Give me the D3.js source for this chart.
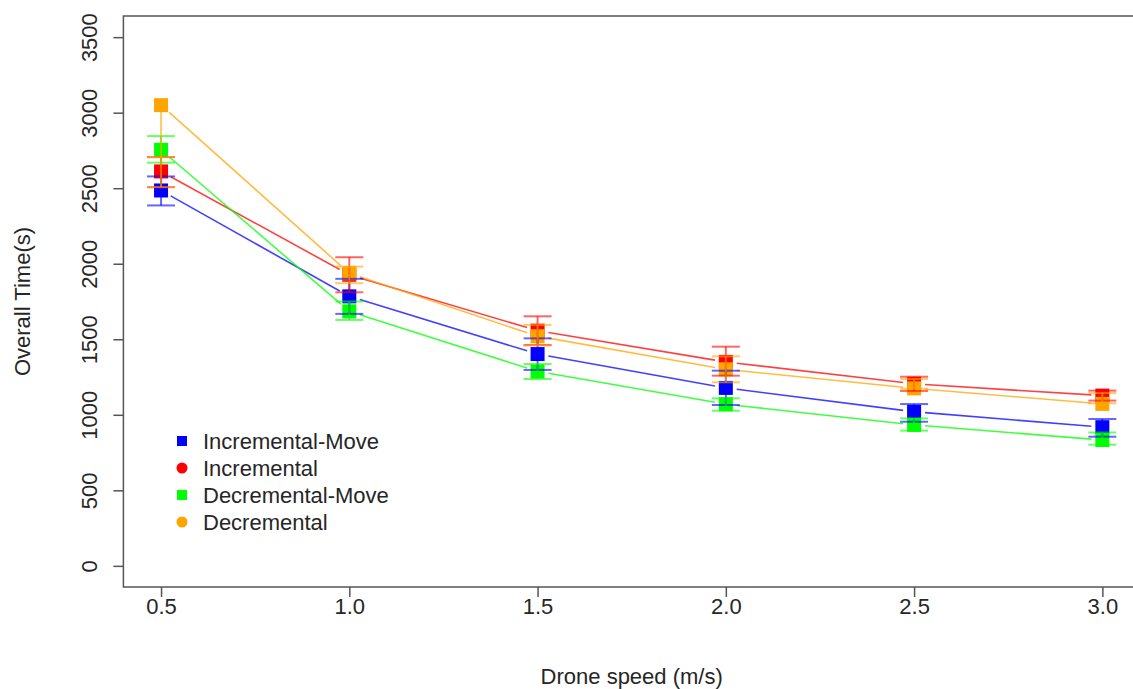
<!DOCTYPE html>
<html>
<head>
<meta charset="utf-8">
<script src="https://cdn.jsdelivr.net/npm/d3@7"></script>
<style>
  body { margin: 0; background: #fff; }
  text { font-family: 'Liberation Sans', Arial, sans-serif; fill: #262626; }
</style>
</head>
<body>
<div class="chart-holder"></div>
<script>
let width = 1133
let height = 689

let speeds = [0.5, 1.0, 1.5, 2.0, 2.5, 3.0]
let xTicks = ['0.5', '1.0', '1.5', '2.0', '2.5', '3.0']
let yTicks = [0, 500, 1000, 1500, 2000, 2500, 3000, 3500]

// mean value and the two error bar ends, per speed
let incMove = [2485, 1784, 1402, 1178, 1020, 918]
let incMoveLo = [2386, 1668, 1297, 1065, 954, 855]
let incMoveHi = [2578, 1900, 1506, 1292, 1071, 972]

let inc = [2611, 1927, 1557, 1350, 1205, 1127]
let incLo = [2507, 1811, 1462, 1259, 1158, 1094]
let incHi = [2706, 2043, 1652, 1451, 1252, 1160]

let decMove = [2754, 1685, 1287, 1070, 933, 833]
let decMoveLo = [2669, 1628, 1237, 1027, 895, 802]
let decMoveHi = [2845, 1750, 1336, 1109, 976, 883]

let dec = [3050, 1937, 1520, 1301, 1175, 1072]
let decLo = [2507, 1871, 1458, 1215, 1173, 1076]
let decHi = [2706, 1981, 1595, 1387, 1237, 1144]

let seriesNames = ['Incremental-Move', 'Incremental', 'Decremental-Move', 'Decremental']
let seriesColors = ['#0000ff', '#ff0000', '#00ff00', '#ffa500']
let legendShapes = ['square', 'circle', 'square', 'circle']

let series = [
    { values: incMove, lo: incMoveLo, hi: incMoveHi },
    { values: inc, lo: incLo, hi: incHi },
    { values: decMove, lo: decMoveLo, hi: decMoveHi },
    { values: dec, lo: decLo, hi: decHi }
]
series.forEach((s, i) => { s.name = seriesNames[i]; s.color = seriesColors[i]; s.shape = legendShapes[i] })

let plot = { left: 123.4, right: 1140, top: 16, bottom: 587 }
let fontSize = 22

// R style: 4% padding on each side of the data range
let x = d3.scaleLinear().domain([0.4, 3.1]).range([plot.left, plot.right])
let y = d3.scaleLinear().domain([-140, 3640]).range([plot.bottom, plot.top])

let svg = d3.select('.chart-holder')
    .append('svg')
        .attr('width', width)
        .attr('height', height)

// axes
let xAxis = svg.append('g')
    .attr('transform', 'translate(0,' + plot.bottom + ')')
    .call(d3.axisBottom(x).tickValues(speeds).tickFormat((d, i) => xTicks[i]).tickSize(10).tickPadding(0))
xAxis.select('.domain').remove()
xAxis.selectAll('line').attr('stroke', '#555').attr('stroke-width', 1.5)
xAxis.selectAll('text').attr('font-size', fontSize).attr('fill', '#262626').attr('dy', '0.75em')

let yAxis = svg.append('g')
    .attr('transform', 'translate(' + plot.left + ',0)')
    .call(d3.axisLeft(y).tickValues(yTicks).tickFormat(d3.format('d')).tickSize(10))
yAxis.select('.domain').remove()
yAxis.selectAll('line').attr('stroke', '#555').attr('stroke-width', 1.5)
yAxis.selectAll('text')
    .attr('font-size', fontSize).attr('fill', '#262626')
    .attr('text-anchor', 'middle')
    .attr('x', null).attr('dy', null)
    .attr('transform', 'translate(-26,0) rotate(-90)')

// box
svg.append('rect')
    .attr('x', plot.left).attr('y', plot.top)
    .attr('width', plot.right - plot.left).attr('height', plot.bottom - plot.top)
    .attr('fill', 'none').attr('stroke', '#555').attr('stroke-width', 1.5)

// titles
svg.append('text')
    .attr('x', (x(0.5) + x(3.0)) / 2).attr('y', 684)
    .attr('text-anchor', 'middle').attr('font-size', fontSize)
    .text('Drone speed (m/s)')

svg.append('text')
    .attr('transform', 'translate(30,' + (plot.top + plot.bottom) / 2 + ') rotate(-90)')
    .attr('text-anchor', 'middle').attr('font-size', fontSize)
    .text('Overall Time(s)')

// lines, type "b": segments stop short of the points
let gap = 11
let lines = svg.append('g').attr('class', 'lines')
series.forEach(s => {
    let pts = speeds.map((sp, i) => [x(sp), y(s.values[i])])
    d3.pairs(pts).forEach(([a, b]) => {
        let dx = b[0] - a[0], dy = b[1] - a[1]
        let len = Math.sqrt(dx * dx + dy * dy)
        let ux = dx / len, uy = dy / len
        lines.append('line')
            .attr('x1', a[0] + ux * gap).attr('y1', a[1] + uy * gap)
            .attr('x2', b[0] - ux * gap).attr('y2', b[1] - uy * gap)
            .attr('stroke', s.color).attr('stroke-width', 1.6).attr('stroke-opacity', 0.75)
    })
})

// points
let size = 14
series.forEach(s => {
    svg.append('g').attr('class', 'points')
        .selectAll('rect')
        .data(speeds)
        .enter()
        .append('rect')
            .attr('x', d => x(d) - size / 2)
            .attr('y', (d, i) => y(s.values[i]) - size / 2)
            .attr('width', size).attr('height', size)
            .attr('fill', s.color)
})

// error bars
let capHalf = 14
series.forEach(s => {
    let g = svg.append('g').attr('class', 'errors')
        .attr('stroke', s.color).attr('stroke-width', 2).attr('stroke-opacity', 0.6)
    speeds.forEach((sp, i) => {
        let vals = [s.lo[i], s.values[i], s.hi[i]]
        g.append('line')
            .attr('x1', x(sp)).attr('x2', x(sp))
            .attr('y1', y(d3.min(vals))).attr('y2', y(d3.max(vals)))
        ;[s.lo[i], s.hi[i]].forEach(v => {
            g.append('line')
                .attr('x1', x(sp) - capHalf).attr('x2', x(sp) + capHalf)
                .attr('y1', y(v)).attr('y2', y(v))
        })
    })
})

// legend
let legend = svg.append('g').attr('class', 'legend')
    .attr('transform', 'translate(182,441)')
    .selectAll('g')
    .data(series)
    .enter()
    .append('g')
        .attr('transform', (d, i) => 'translate(0,' + i * 27 + ')')

legend.filter(d => d.shape === 'square')
    .append('rect')
        .attr('x', -5).attr('y', -5).attr('width', 10).attr('height', 10)
        .attr('fill', d => d.color)
legend.filter(d => d.shape === 'circle')
    .append('circle')
        .attr('r', 5.5)
        .attr('fill', d => d.color)
legend.append('text')
    .attr('x', 21).attr('y', 8)
    .attr('font-size', fontSize)
    .text(d => d.name)
</script>
</body>
</html>
